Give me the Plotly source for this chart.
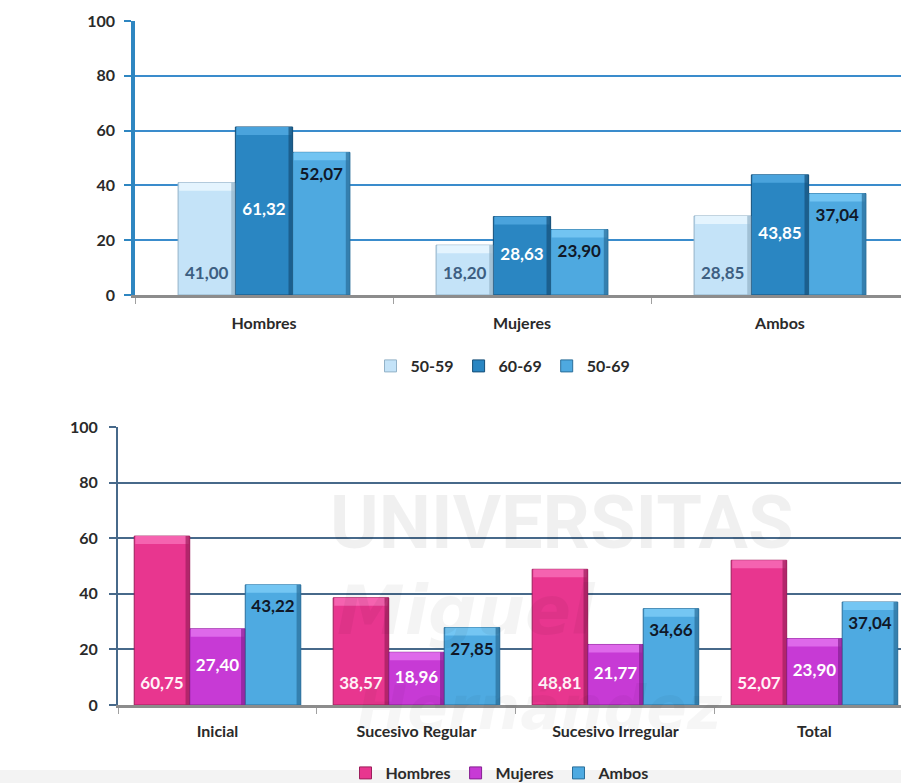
import plotly.graph_objects as go

# --- Top chart: age groups by sex ---
groups_top = ["Hombres", "Mujeres", "Ambos"]
series_top = ["50-59", "60-69", "50-69"]
vals_5059 = [41.00, 18.20, 28.85]
vals_6069 = [61.32, 28.63, 43.85]
vals_5069 = [52.07, 23.90, 37.04]

# --- Bottom chart: screening round by sex ---
groups_bot = ["Inicial", "Sucesivo Regular", "Sucesivo Irregular", "Total"]
series_bot = ["Hombres", "Mujeres", "Ambos"]
vals_hombres = [60.75, 38.57, 48.81, 52.07]
vals_mujeres = [27.40, 18.96, 21.77, 23.90]
vals_ambos = [43.22, 27.85, 34.66, 37.04]

y_ticks = [0, 20, 40, 60, 80, 100]

FONT = "Lato"
W, H = 901, 783


def fmt(v):
    return f"{v:.2f}".replace(".", ",")


fig = go.Figure()


def add_group(series, groups, xa, ya, leg, bar_w, px_per_unit, edge_w):
    """Bevelled grouped bars plus value labels for one panel."""
    n = len(groups)
    cap = 8 / px_per_unit          # height of the light top bevel
    pos_list = []
    for k, (name, vals, main, light, dark, tcol, anchor) in enumerate(series):
        xs = [i + (k - 1) * bar_w for i in range(n)]
        pos_list.append((xs, vals, light, dark, tcol, anchor))
        fig.add_trace(go.Bar(
            x=xs, y=vals, name=name, width=bar_w,
            xaxis=xa, yaxis=ya, legend=leg,
            marker=dict(color=main, line=dict(color=dark, width=1)),
            hoverinfo="skip",
        ))
    for xs, vals, light, dark, tcol, anchor in pos_list:
        # top bevel
        fig.add_trace(go.Bar(
            x=xs, y=[cap] * n, base=[v - cap for v in vals], width=bar_w * 0.96,
            xaxis=xa, yaxis=ya, showlegend=False,
            marker=dict(color=light, line=dict(width=0)), hoverinfo="skip",
        ))
        # shaded right edge
        fig.add_trace(go.Bar(
            x=[x + bar_w / 2 - edge_w / 2 for x in xs], y=vals, width=edge_w,
            xaxis=xa, yaxis=ya, showlegend=False,
            marker=dict(color=dark, opacity=0.7, line=dict(width=0)),
            hoverinfo="skip",
        ))
    for xs, vals, light, dark, tcol, anchor in pos_list:
        if anchor == "start":
            ys = [20 / px_per_unit] * n
        elif anchor == "middle":
            ys = [v / 2 for v in vals]
        else:
            ys = [v - 23 / px_per_unit for v in vals]
        fig.add_trace(go.Scatter(
            x=xs, y=ys, mode="text", text=[fmt(v) for v in vals],
            textposition="middle center",
            textfont=dict(family=FONT, size=17, color=tcol, weight="bold"),
            xaxis=xa, yaxis=ya, showlegend=False, hoverinfo="skip",
        ))


top_series = [
    (series_top[0], vals_5059, "#c4e3f8", "#e4f4fe", "#93b2c8", "#3d5f82", "start"),
    (series_top[1], vals_6069, "#2a86c2", "#4aa3dc", "#164f78", "#ffffff", "middle"),
    (series_top[2], vals_5069, "#4ea9e0", "#72c4f2", "#2a6e9a", "#101828", "end"),
]
bot_series = [
    (series_bot[0], vals_hombres, "#e8368f", "#f563b0", "#9c1e5b", "#fff2f8", "start"),
    (series_bot[1], vals_mujeres, "#c73ad5", "#de69ea", "#861f92", "#ffffff", "middle"),
    (series_bot[2], vals_ambos, "#4eaae1", "#74c6f3", "#2a6e9a", "#101828", "end"),
]

add_group(top_series, groups_top, "x", "y", "legend", 0.222, 2.74, 0.016)
add_group(bot_series, groups_bot, "x2", "y2", "legend2", 0.279, 2.78, 0.021)

tickfont = dict(family=FONT, size=16, color="#2a2a2a", weight="bold")


def cat_axis(domain, anchor, groups, upper, standoff):
    n = len(groups)
    return dict(
        domain=domain, anchor=anchor,
        range=[-0.5, upper],
        tickvals=list(range(n)), ticktext=groups, ticks="",
        minor=dict(tickvals=[i - 0.5 for i in range(n + 1)], ticks="outside",
                   ticklen=6, tickcolor="#a0a0a0", tickwidth=1, showgrid=False),
        showline=True, linecolor="#8c8c8c", linewidth=2.5,
        showgrid=False, zeroline=False, tickfont=tickfont,
        ticklabelstandoff=standoff,
    )


fig.update_layout(
    width=W, height=H,
    margin=dict(l=0, r=0, t=0, b=0, autoexpand=False),
    paper_bgcolor="white", plot_bgcolor="rgba(0,0,0,0)",
    barmode="overlay",
    showlegend=True,
    xaxis=cat_axis([135 / W, 1], "y", groups_top, 2.469, 12),
    yaxis=dict(
        domain=[1 - 295 / H, 1 - 21 / H], anchor="x",
        range=[0, 100], tickvals=y_ticks,
        showgrid=True, gridcolor="#3a8ccc", gridwidth=2,
        showline=True, linecolor="#2e86c1", linewidth=3.5,
        ticks="outside", ticklen=7, tickcolor="#2e86c1", tickwidth=2,
        tickfont=tickfont, zeroline=False, ticklabelstandoff=6,
    ),
    xaxis2=cat_axis([118 / W, 1], "y2", groups_bot, 3.435, 10),
    yaxis2=dict(
        domain=[1 - 705 / H, 1 - 427 / H], anchor="x2",
        range=[0, 100], tickvals=y_ticks,
        showgrid=True, gridcolor="#47698a", gridwidth=1.5,
        showline=True, linecolor="#47698a", linewidth=2,
        ticks="outside", ticklen=7, tickcolor="#47698a", tickwidth=2,
        tickfont=tickfont, zeroline=False, ticklabelstandoff=8,
    ),
    legend=dict(
        orientation="h", x=503 / W, xanchor="center",
        y=1 - 366 / H, yanchor="middle",
        font=dict(family=FONT, size=16, color="#2a2a2a", weight="bold"),
        itemwidth=30, bgcolor="rgba(0,0,0,0)", traceorder="normal",
    ),
    legend2=dict(
        orientation="h", x=500 / W, xanchor="center",
        y=1 - 773 / H, yanchor="middle",
        font=dict(family=FONT, size=16, color="#2a2a2a", weight="bold"),
        itemwidth=30, bgcolor="rgba(0,0,0,0)", traceorder="normal",
    ),
)

# light grey strip along the foot of the page
fig.add_shape(type="rect", xref="paper", yref="paper", layer="below",
              x0=0, x1=1, y0=0, y1=13 / H, fillcolor="#f3f3f3", line_width=0)

# faint institutional watermark across the lower chart
fig.add_annotation(text="UNIVERSITAS", xref="paper", yref="paper",
                   x=561 / W, y=1 - 522 / H, showarrow=False,
                   font=dict(family="Roboto", size=74, color="rgba(0,0,0,0.06)",
                             weight="bold"))
fig.add_annotation(text="<i>Miguel</i>", xref="paper", yref="paper",
                   x=466 / W, y=1 - 652 / H, showarrow=False,
                   font=dict(family="DejaVu Sans", size=68, color="rgba(0,0,0,0.045)",
                             weight="bold"))
fig.add_annotation(text="<i>Hernández</i>", xref="paper", yref="paper",
                   x=540 / W, y=1 - 745 / H, showarrow=False,
                   font=dict(family="DejaVu Sans", size=60, color="rgba(0,0,0,0.035)",
                             weight="bold"))

fig.write_html("out.html")
